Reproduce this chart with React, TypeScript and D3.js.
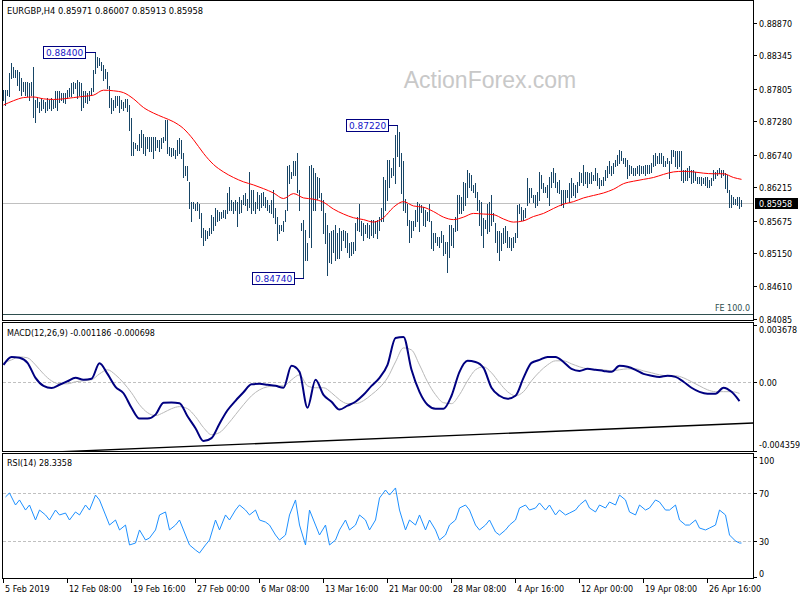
import React from "react";
import * as d3 from "d3";

// ---------------- data ----------------
const SYMBOL = "EURGBP,H4";
const LAST_OHLC = ["0.85971", "0.86007", "0.85913", "0.85958"];
const LAST_CLOSE = 0.85958;

// H4 bars: high / low, one entry per bar
const HIGH = [
0.8778,0.8778,0.8778,0.8805,0.8822,0.8816,0.8811,0.8811,0.8808,0.8797,
0.8792,0.8792,0.8792,0.8789,0.8792,0.8816,0.8762,0.8765,0.8759,0.8765,
0.8762,0.8759,0.8765,0.8762,0.8765,0.8762,0.8776,0.8776,0.8776,0.8773,
0.8773,0.8773,0.8778,0.8781,0.8789,0.8792,0.8789,0.8795,0.8792,0.8789,
0.8776,0.8776,0.8773,0.8776,0.8781,0.8811,0.8840,0.8832,0.8830,0.8824,
0.8819,0.8813,0.8808,0.8784,0.8765,0.8762,0.8768,0.8768,0.8768,0.8762,
0.8759,0.8763,0.8763,0.8754,0.8733,0.8695,0.8692,0.8690,0.8708,0.8714,
0.8708,0.8703,0.8703,0.8703,0.8703,0.8703,0.8703,0.8698,0.8698,0.8700,
0.8703,0.8730,0.8730,0.8687,0.8684,0.8684,0.8681,0.8698,0.8700,0.8698,
0.8676,0.8655,0.8655,0.8630,0.8598,0.8598,0.8595,0.8598,0.8595,0.8579,
0.8555,0.8552,0.8550,0.8555,0.8577,0.8574,0.8587,0.8585,0.8582,0.8582,
0.8585,0.8585,0.8612,0.8622,0.8601,0.8598,0.8601,0.8598,0.8606,0.8601,
0.8609,0.8612,0.8603,0.8646,0.8617,0.8617,0.8598,0.8614,0.8609,0.8612,
0.8614,0.8606,0.8601,0.8593,0.8601,0.8617,0.8587,0.8574,0.8560,0.8560,
0.8566,0.8585,0.8655,0.8657,0.8646,0.8663,0.8663,0.8676,0.8617,0.8563,
0.8568,0.8552,0.8531,0.8655,0.8657,0.8652,0.8644,0.8638,0.8636,0.8612,
0.8601,0.8579,0.8560,0.8547,0.8550,0.8552,0.8560,0.8547,0.8555,0.8550,
0.8552,0.8550,0.8547,0.8531,0.8533,0.8533,0.8563,0.8574,0.8595,0.8566,
0.8563,0.8560,0.8563,0.8560,0.8568,0.8568,0.8566,0.8568,0.8574,0.8587,
0.8638,0.8633,0.8665,0.8665,0.8652,0.8668,0.8706,0.8722,0.8711,0.8676,
0.8663,0.8603,0.8595,0.8568,0.8566,0.8566,0.8585,0.8598,0.8595,0.8593,
0.8590,0.8585,0.8582,0.8595,0.8566,0.8547,0.8547,0.8541,0.8541,0.8550,
0.8544,0.8533,0.8533,0.8560,0.8560,0.8555,0.8574,0.8609,0.8609,0.8606,
0.8630,0.8628,0.8649,0.8644,0.8641,0.8625,0.8628,0.8614,0.8601,0.8598,
0.8571,0.8568,0.8595,0.8598,0.8609,0.8579,0.8563,0.8550,0.8550,0.8547,
0.8555,0.8558,0.8550,0.8541,0.8539,0.8541,0.8547,0.8593,0.8595,0.8590,
0.8585,0.8587,0.8636,0.8620,0.8620,0.8609,0.8609,0.8614,0.8646,0.8641,
0.8628,0.8622,0.8625,0.8638,0.8646,0.8652,0.8644,0.8630,0.8633,0.8617,
0.8617,0.8617,0.8617,0.8628,0.8636,0.8628,0.8625,0.8630,0.8646,0.8644,
0.8657,0.8646,0.8646,0.8644,0.8646,0.8641,0.8652,0.8644,0.8636,0.8633,
0.8638,0.8649,0.8655,0.8663,0.8655,0.8660,0.8665,0.8673,0.8681,0.8679,
0.8668,0.8668,0.8665,0.8657,0.8655,0.8652,0.8652,0.8655,0.8657,0.8655,
0.8655,0.8657,0.8657,0.8657,0.8660,0.8673,0.8676,0.8671,0.8676,0.8676,
0.8671,0.8663,0.8668,0.8663,0.8681,0.8681,0.8679,0.8679,0.8679,0.8679,
0.8649,0.8649,0.8652,0.8655,0.8649,0.8649,0.8646,0.8638,0.8638,0.8638,
0.8636,0.8638,0.8638,0.8633,0.8636,0.8649,0.8646,0.8649,0.8652,0.8649,
0.8649,0.8644,0.8641,0.8617,0.8609,0.8606,0.8603,0.8606,0.8606,0.86007
];
const LOW = [
0.8762,0.8754,0.8770,0.8768,0.8797,0.8800,0.8800,0.8786,0.8778,0.8770,
0.8776,0.8770,0.8768,0.8762,0.8770,0.8735,0.8727,0.8751,0.8743,0.8746,
0.8749,0.8743,0.8746,0.8749,0.8746,0.8749,0.8751,0.8746,0.8759,0.8762,
0.8759,0.8757,0.8765,0.8768,0.8768,0.8773,0.8781,0.8765,0.8770,0.8746,
0.8751,0.8759,0.8757,0.8762,0.8770,0.8776,0.8805,0.8816,0.8819,0.8811,
0.8795,0.8797,0.8781,0.8751,0.8741,0.8746,0.8751,0.8754,0.8743,0.8749,
0.8746,0.8751,0.8745,0.8714,0.8673,0.8673,0.8684,0.8681,0.8681,0.8687,
0.8676,0.8673,0.8684,0.8679,0.8679,0.8668,0.8681,0.8687,0.8679,0.8684,
0.8695,0.8698,0.8676,0.8673,0.8671,0.8673,0.8668,0.8673,0.8676,0.8668,
0.8638,0.8641,0.8633,0.8587,0.8566,0.8587,0.8585,0.8585,0.8571,0.8541,
0.8528,0.8536,0.8539,0.8544,0.8547,0.8552,0.8560,0.8566,0.8568,0.8571,
0.8574,0.8571,0.8579,0.8585,0.8585,0.8579,0.8585,0.8558,0.8579,0.8582,
0.8595,0.8593,0.8585,0.8590,0.8579,0.8585,0.8579,0.8587,0.8585,0.8590,
0.8593,0.8590,0.8585,0.8582,0.8579,0.8574,0.8563,0.8536,0.8547,0.8552,
0.8550,0.8566,0.8585,0.8628,0.8636,0.8641,0.8641,0.8614,0.8585,0.8552,
0.8474,0.8504,0.8504,0.8541,0.8525,0.8585,0.8585,0.8603,0.8606,0.8585,
0.8547,0.8531,0.8480,0.8501,0.8499,0.8517,0.8504,0.8507,0.8507,0.8520,
0.8536,0.8525,0.8517,0.8509,0.8512,0.8515,0.8520,0.8552,0.8550,0.8544,
0.8536,0.8547,0.8541,0.8539,0.8544,0.8541,0.8547,0.8539,0.8552,0.8566,
0.8566,0.8585,0.8601,0.8622,0.8638,0.8641,0.8628,0.8671,0.8655,0.8612,
0.8585,0.8582,0.8560,0.8533,0.8541,0.8552,0.8558,0.8566,0.8550,0.8582,
0.8560,0.8558,0.8568,0.8566,0.8523,0.8520,0.8533,0.8528,0.8525,0.8533,
0.8512,0.8515,0.8485,0.8509,0.8528,0.8525,0.8550,0.8552,0.8579,0.8579,
0.8585,0.8593,0.8606,0.8622,0.8617,0.8614,0.8606,0.8585,0.8560,0.8544,
0.8525,0.8555,0.8547,0.8550,0.8560,0.8566,0.8533,0.8517,0.8504,0.8520,
0.8531,0.8533,0.8525,0.8525,0.8520,0.8525,0.8533,0.8541,0.8579,0.8568,
0.8568,0.8574,0.8593,0.8598,0.8606,0.8598,0.8590,0.8593,0.8601,0.8620,
0.8614,0.8614,0.8606,0.8593,0.8622,0.8630,0.8622,0.8614,0.8612,0.8593,
0.8590,0.8598,0.8606,0.8598,0.8606,0.8609,0.8606,0.8614,0.8625,0.8630,
0.8625,0.8628,0.8622,0.8628,0.8628,0.8633,0.8633,0.8625,0.8620,0.8625,
0.8625,0.8633,0.8638,0.8644,0.8641,0.8644,0.8655,0.8657,0.8660,0.8665,
0.8660,0.8655,0.8636,0.8641,0.8644,0.8641,0.8641,0.8644,0.8641,0.8644,
0.8644,0.8641,0.8644,0.8644,0.8646,0.8655,0.8657,0.8660,0.8660,0.8660,
0.8655,0.8655,0.8660,0.8636,0.8660,0.8671,0.8655,0.8652,0.8655,0.8633,
0.8630,0.8633,0.8633,0.8638,0.8628,0.8630,0.8633,0.8628,0.8628,0.8625,
0.8628,0.8625,0.8622,0.8622,0.8625,0.8633,0.8636,0.8641,0.8644,0.8638,
0.8641,0.8620,0.8614,0.8590,0.8590,0.8595,0.8595,0.8593,0.8587,0.85913
];

// moving average (red), sampled every 5 bars + last bar
const MA_VALUES = [
0.8754,0.8761,0.8766,0.8767,0.8764,0.8763,0.8764,0.8766,0.8768,0.8770,
0.8778,0.8777,0.8774,0.8764,0.8750,0.8741,0.8734,0.8727,0.8716,0.8698,
0.8676,0.8658,0.8646,0.8637,0.8630,0.8625,0.8619,0.8612,0.8603,0.8611,
0.8604,0.8602,0.8597,0.8586,0.8578,0.8572,0.8569,0.8565,0.8572,0.8589,
0.8598,0.8591,0.8589,0.8582,0.8573,0.8569,0.8573,0.8579,0.8578,0.8577,
0.8570,0.8565,0.8567,0.8574,0.8579,0.8587,0.8594,0.8598,0.8604,0.8608,
0.8612,0.8618,0.8627,0.8631,0.8634,0.8637,0.8642,0.8646,0.8647,0.8646,
0.8644,0.8643,0.8643,0.8637,0.8634
];

// MACD(12,26,9): main and signal, sampled every 4 bars
const MACD_MAIN = [
0.00111,0.00162,0.00156,0.00124,0.00029,-0.00022,-0.00036,-0.00015,0.00007,0.00029,
0.00017,0.00023,0.00122,0.00054,-0.00028,-0.00069,-0.00161,-0.00230,-0.00230,-0.00205,
-0.00129,-0.00127,-0.00132,-0.00215,-0.00291,-0.00373,-0.00354,-0.00262,-0.00177,-0.00117,
-0.00063,-0.00012,-0.00009,-0.00015,-0.00022,-0.00034,0.00105,0.00067,-0.00161,0.00017,
-0.00079,-0.00123,-0.00173,-0.00148,-0.00123,-0.00079,-0.00022,0.00029,0.00111,0.00282,
0.00289,0.00080,-0.00060,-0.00142,-0.00167,-0.00167,-0.00085,0.00067,0.00137,0.00130,
0.00092,-0.00034,-0.00085,-0.00104,-0.00085,0.00029,0.00124,0.00143,0.00162,0.00162,
0.00130,0.00086,0.00073,0.00086,0.00080,0.00073,0.00067,0.00105,0.00099,0.00080,
0.00054,0.00042,0.00035,0.00042,0.00035,0.00004,-0.00034,-0.00060,-0.00072,-0.00072,
-0.00034,-0.00060,-0.001186
];
const MACD_SIGNAL = [
0.00124,0.00143,0.00162,0.00156,0.00111,0.00054,0.00010,-0.00009,-0.00009,0.00004,
0.00010,0.00017,0.00054,0.00080,0.00048,-0.00003,-0.00066,-0.00142,-0.00192,-0.00211,
-0.00192,-0.00167,-0.00154,-0.00167,-0.00218,-0.00287,-0.00332,-0.00319,-0.00268,-0.00205,
-0.00142,-0.00085,-0.00047,-0.00028,-0.00022,-0.00022,0.00016,0.00048,-0.00022,-0.00034,
-0.00034,-0.00066,-0.00110,-0.00135,-0.00135,-0.00116,-0.00078,-0.00034,0.00029,0.00130,
0.00219,0.00206,0.00111,0.00004,-0.00078,-0.00129,-0.00135,-0.00078,0.00010,0.00080,
0.00099,0.00061,-0.00003,-0.00059,-0.00085,-0.00059,0.00010,0.00067,0.00111,0.00137,
0.00137,0.00118,0.00099,0.00086,0.00080,0.00080,0.00073,0.00080,0.00086,0.00086,
0.00073,0.00061,0.00048,0.00042,0.00042,0.00029,0.00004,-0.00022,-0.00047,-0.00059,
-0.00059,-0.00059,-0.000698
];
const MACD_TEXT = ["-0.001186", "-0.000698"];
const MACD_TRENDLINE = [[102, -0.00402], [369, -0.00261]]; // [bar, value]

// RSI(14), sampled every 2.5 bars (nearest bar) + last bar
const RSI_VALUES = [
66.7,70,60,64.2,55.8,60,47.5,55.8,51.7,47.5,
55.8,51.7,53.3,47.5,54.2,51.7,60,55.8,68.3,64.2,
51.7,43.3,47.5,39.2,43.3,26.7,28.3,39.2,30.8,32.5,
39.2,51.7,54.2,39.2,43.3,47.5,35,26.7,22.5,20,
26.7,30.8,47.5,39.2,51.7,47.5,55.8,60,55.8,51.7,
55.8,47.5,45.8,43.3,35,30.8,35,51.7,64.2,43.3,
26.7,55.8,43.3,35,43.3,26.7,30.8,39.2,47.5,39.2,
43.3,51.7,47.5,39.2,47.5,65.8,72.5,68.3,74.2,55.8,
39.2,47.5,43.3,51.7,39.2,47.5,39.2,30.8,35,43.3,
47.5,57.5,60,55.8,43.3,39.2,43.3,47.5,37.5,35,
39.2,43.3,47.5,57.5,60,55.8,57.5,61.7,55.8,60,
51.7,55.8,51.7,53.3,55.8,60,64.2,57.5,54.2,60,
57.5,62.5,60,68.3,64.2,54.2,51.7,60,55.8,57.5,
64.2,62.5,55.8,55.8,60,47.5,43.3,43.3,47.5,40.8,
39.2,40.8,43.3,55.8,51.7,35,30,28.3,28.3
];
const RSI_TEXT = "28.3358";

const PRICE_TICKS = [0.8887, 0.88345, 0.87805, 0.8728, 0.8674, 0.86215, 0.85675, 0.8515, 0.8461, 0.84085];
const MACD_TICKS = [0.003678, 0, -0.004359];
const MACD_TICK_TEXT = ["0.003678", "0.00", "-0.004359"];
const RSI_TICKS = [100, 70, 30, 0];
const RSI_LEVELS = [70, 30];

const TIME_LABELS = ["5 Feb 2019", "12 Feb 08:00", "19 Feb 16:00", "27 Feb 00:00", "6 Mar 08:00", "13 Mar 16:00",
  "21 Mar 00:00", "28 Mar 08:00", "4 Apr 16:00", "12 Apr 00:00", "19 Apr 08:00", "26 Apr 16:00"];
const TIME_LABEL_EVERY = 32; // bars between labels

const PEAK_BARS = [46, 197, 150];
const PEAK_PRICES = [0.884, 0.8722, 0.8474];
const FE_LEVEL = 0.8417;
const FE_TEXT = "FE 100.0";
const WATERMARK = "ActionForex.com";

// ---------------- layout ----------------
const FONT = "'DejaVu Sans', Tahoma, Verdana, sans-serif";
const LEFT = 2.5;
const AXIS_X = 753.5;
const MAIN_P = { top: 0.5, bottom: 320.5 };
const MACD_P = { top: 322.5, bottom: 451.5 };
const RSI_P = { top: 453.5, bottom: 578.5 };

const BAR_COLOR = "#174566";

export default function App() {
  const n = HIGH.length;
  const x = d3.scaleLinear().domain([0, n - 1]).range([3.5, 3.5 + 2 * (n - 1)]);
  const yP = d3.scaleLinear().domain([0.84085, 0.8922]).range([319, 1]);
  const yM = d3.scaleLinear().domain([-0.004359, 0.003678]).range([451, 324.5]);
  const yR = d3.scaleLinear().domain([0, 100]).range([577, 457]);

  const maBars = d3.range(0, n - 1, 5).concat([n - 1]);
  const macdBars = d3.range(0, n - 1, 4);
  const rsiBars = d3.range(1, RSI_VALUES.length).map((k) => Math.round(2.5 * k - 1.75)).concat([n - 1]);

  const maLine = d3.line<number>().x((_, i) => x(maBars[i])).y((d) => yP(d)).curve(d3.curveMonotoneX)(MA_VALUES) || "";
  const macdLine = d3.line<number>().x((_, i) => x(macdBars[i])).y((d) => yM(d)).curve(d3.curveMonotoneX)(MACD_MAIN) || "";
  const sigLine = d3.line<number>().x((_, i) => x(macdBars[i])).y((d) => yM(d)).curve(d3.curveMonotoneX)(MACD_SIGNAL) || "";
  const rsiLine = d3.line<number>().x((_, i) => x(rsiBars[i])).y((d) => yR(d))(RSI_VALUES) || "";

  // trend line through two anchors, extended across the panel
  const [[b1, v1], [b2, v2]] = MACD_TRENDLINE;
  const tx1 = x(b1), ty1 = yM(v1), tx2 = x(b2), ty2 = yM(v2);
  const slope = (ty2 - ty1) / (tx2 - tx1);
  const trendA = { x: LEFT, y: ty1 + slope * (LEFT - tx1) };
  const trendB = { x: AXIS_X, y: ty1 + slope * (AXIS_X - tx1) };

  const text = (props: any, s: string) => (
    <text fontFamily={FONT} fontSize={8} fill="#000" {...props}>{s}</text>
  );

  return (
    <svg width={800} height={600} style={{ position: "absolute", left: 0, top: 0, background: "#fff" }}
      shapeRendering="crispEdges">
      <defs>
        <clipPath id="clipMain"><rect x={LEFT} y={MAIN_P.top} width={AXIS_X - LEFT} height={MAIN_P.bottom - MAIN_P.top} /></clipPath>
        <clipPath id="clipMacd"><rect x={LEFT} y={MACD_P.top} width={AXIS_X - LEFT} height={MACD_P.bottom - MACD_P.top} /></clipPath>
        <clipPath id="clipRsi"><rect x={LEFT} y={RSI_P.top} width={AXIS_X - LEFT} height={RSI_P.bottom - RSI_P.top} /></clipPath>
      </defs>
      <rect x={0} y={0} width={800} height={600} fill="#fff" />

      {/* watermark */}
      <text x={490} y={88} textAnchor="middle" fontFamily="'Liberation Sans', Arial, sans-serif" fontSize={23}
        fill="#c8c8c8" shapeRendering="auto">{WATERMARK}</text>

      {/* ---------- main panel ---------- */}
      <g clipPath="url(#clipMain)">
        <line x1={LEFT} x2={AXIS_X} y1={Math.round(yP(LAST_CLOSE)) + 0.5} y2={Math.round(yP(LAST_CLOSE)) + 0.5} stroke="#c0c0c0" />
        <line x1={LEFT} x2={AXIS_X} y1={Math.round(yP(FE_LEVEL)) + 0.5} y2={Math.round(yP(FE_LEVEL)) + 0.5} stroke="#2f4f4f" />
        {HIGH.map((h, i) => (
          <line key={i} x1={x(i)} x2={x(i)} y1={Math.round(yP(h))} y2={Math.round(yP(LOW[i])) + 1} stroke={BAR_COLOR} strokeWidth={1} />
        ))}
        <path d={maLine} fill="none" stroke="#ff0000" strokeWidth={1} shapeRendering="auto" />
      </g>
      {text({ x: 750, y: 311, textAnchor: "end", fill: "#2f4f4f" }, FE_TEXT)}

      {PEAK_BARS.map((b, k) => {
        const bx = x(b);
        const by = Math.round(yP(PEAK_PRICES[k])) + 0.5;
        const right = Math.round(bx - 10) + 0.5;
        return (
          <g key={k}>
            <line x1={right} x2={bx} y1={by} y2={by} stroke="#000080" />
            <rect x={right - 42} y={by - 6} width={42} height={12} fill="#fff" stroke="#000080" />
            <text x={right - 21} y={by + 3.5} textAnchor="middle" fontFamily={FONT} fontSize={9} fill="#1515c8">
              {PEAK_PRICES[k].toFixed(5)}
            </text>
          </g>
        );
      })}

      {text({ x: 7, y: 13.5, fontSize: 8.3 }, `${SYMBOL}  ${LAST_OHLC.join(" ")}`)}

      {/* ---------- MACD panel ---------- */}
      <g clipPath="url(#clipMacd)">
        <line x1={LEFT} x2={AXIS_X} y1={Math.round(yM(0)) + 0.5} y2={Math.round(yM(0)) + 0.5} stroke="#c0c0c0" strokeDasharray="3,2" />
        <path d={sigLine} fill="none" stroke="#b8b8b8" strokeWidth={1} shapeRendering="auto" />
        <path d={macdLine} fill="none" stroke="#000080" strokeWidth={2} shapeRendering="auto" />
        <line x1={trendA.x} y1={trendA.y} x2={trendB.x} y2={trendB.y} stroke="#000" strokeWidth={1.4} shapeRendering="auto" />
      </g>
      {text({ x: 7, y: 336 }, `MACD(12,26,9) ${MACD_TEXT.join(" ")}`)}

      {/* ---------- RSI panel ---------- */}
      <g clipPath="url(#clipRsi)">
        {RSI_LEVELS.map((lv) => (
          <line key={lv} x1={LEFT} x2={AXIS_X} y1={Math.round(yR(lv)) + 0.5} y2={Math.round(yR(lv)) + 0.5} stroke="#c0c0c0" strokeDasharray="3,2" />
        ))}
        <path d={rsiLine} fill="none" stroke="#1e90ff" strokeWidth={1} shapeRendering="auto" />
      </g>
      {text({ x: 7, y: 466 }, `RSI(14) ${RSI_TEXT}`)}

      {/* ---------- frames ---------- */}
      {[MAIN_P, MACD_P, RSI_P].map((p, k) => (
        <rect key={k} x={LEFT} y={p.top} width={AXIS_X - LEFT} height={p.bottom - p.top} fill="none" stroke="#000" />
      ))}

      {/* ---------- price axis ---------- */}
      {PRICE_TICKS.map((p) => {
        const yy = Math.round(yP(p)) + 0.5;
        return (
          <g key={p}>
            <line x1={AXIS_X} x2={AXIS_X + 3} y1={yy} y2={yy} stroke="#000" />
            {text({ x: 759, y: yy + 3.5 }, p.toFixed(5))}
          </g>
        );
      })}
      <rect x={755} y={Math.round(yP(LAST_CLOSE)) - 5} width={43} height={11} fill="#000" />
      {text({ x: 759, y: Math.round(yP(LAST_CLOSE)) + 3.5, fill: "#fff" }, LAST_CLOSE.toFixed(5))}

      {MACD_TICKS.map((v, k) => {
        const yy = Math.round(yM(v)) + 0.5;
        const ty = k === 0 ? yy + 7 : k === 2 ? yy - 4 : yy + 3.5;
        return (
          <g key={k}>
            <line x1={AXIS_X} x2={AXIS_X + 3} y1={yy} y2={yy} stroke="#000" />
            {text({ x: 759, y: ty }, MACD_TICK_TEXT[k])}
          </g>
        );
      })}
      {RSI_TICKS.map((v) => {
        const yy = Math.round(yR(v)) + 0.5;
        const ty = v === 100 ? yy + 6.5 : v === 0 ? yy - 1 : yy + 3.5;
        return (
          <g key={v}>
            <line x1={AXIS_X} x2={AXIS_X + 3} y1={yy} y2={yy} stroke="#000" />
            {text({ x: 759, y: ty }, String(v))}
          </g>
        );
      })}

      {/* ---------- time axis ---------- */}
      {TIME_LABELS.map((lab, k) => {
        const tx = Math.round(x(k * TIME_LABEL_EVERY)) - 0.5;
        return (
          <g key={lab}>
            <line x1={tx} x2={tx} y1={RSI_P.bottom} y2={RSI_P.bottom + 4} stroke="#000" />
            {text({ x: tx + 1.5, y: 592 }, lab)}
          </g>
        );
      })}
    </svg>
  );
}
